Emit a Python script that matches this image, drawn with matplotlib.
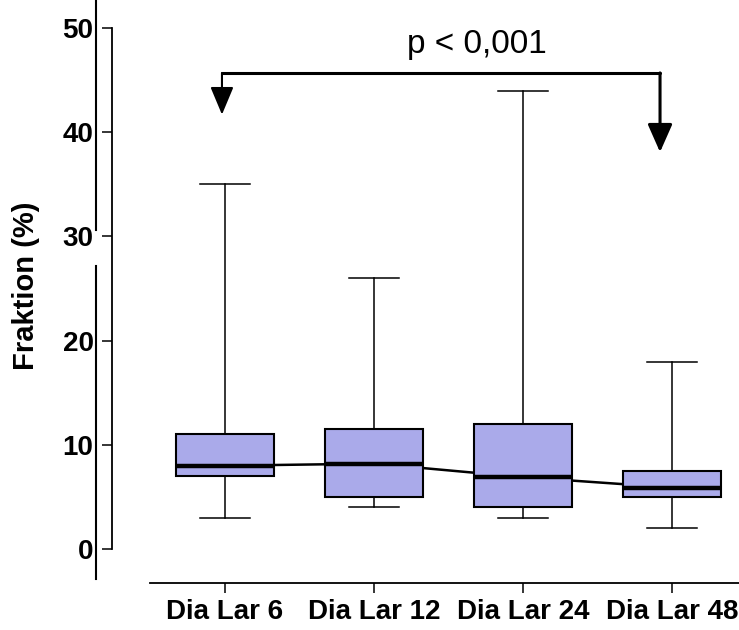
import matplotlib
matplotlib.use("Agg")
import matplotlib.pyplot as plt
from matplotlib.lines import Line2D

plt.rcParams['font.family'] = ['Liberation Sans', 'DejaVu Sans']

groups = ["Dia Lar 6", "Dia Lar 12", "Dia Lar 24", "Dia Lar 48"]
mins = [3, 4, 3, 2]
q1 = [7, 5, 4, 5]
medians = [8.0, 8.2, 6.9, 5.9]
q3 = [11, 11.5, 12, 7.5]
maxs = [35, 26, 44, 18]
p_text = "p < 0,001"

W, H = 739, 630
fig = plt.figure(figsize=(W / 100, H / 100), dpi=100)
# axes: x from px 150 to right edge, y from top to the x-axis line at px 583
ax = fig.add_axes([150 / W, 1 - 583 / H, 1 - 150 / W, 583 / H])

pos = [1, 2, 3, 4]
stats = []
for g, lo, a, m, b, hi in zip(groups, mins, q1, medians, q3, maxs):
    stats.append(dict(label=g, whislo=lo, q1=a, med=m, q3=b, whishi=hi))

# line through the medians, hidden behind the boxes
ax.plot(pos, medians, color="black", lw=1.8, zorder=1)

ax.bxp(stats, positions=pos, widths=0.66, capwidths=0.34, patch_artist=True,
       showfliers=False,
       boxprops=dict(facecolor="#aaaaea", edgecolor="black", linewidth=1.5),
       medianprops=dict(color="black", linewidth=3.2),
       whiskerprops=dict(color="black", linewidth=1.1),
       capprops=dict(color="black", linewidth=1.1),
       zorder=2)

ax.set_xlim(0.497, 4.45)
ax.set_ylim(-3.26, 52.7)

# significance bracket
y_br = 45.7
xl, xr = 0.98, 3.92
ax.plot([xl, xr], [y_br, y_br], color="black", lw=2.2, solid_capstyle="round")
ax.annotate("", xy=(xl, 41.7), xytext=(xl, y_br),
            arrowprops=dict(arrowstyle="-|>,head_length=0.86,head_width=0.36",
                            color="black", lw=1.5, mutation_scale=20,
                            shrinkA=0, shrinkB=0))
ax.annotate("", xy=(xr, 38.1), xytext=(xr, y_br),
            arrowprops=dict(arrowstyle="-|>,head_length=0.86,head_width=0.38",
                            color="black", lw=2.2, mutation_scale=20,
                            shrinkA=0, shrinkB=0))
ax.text(2.69, 47.6, p_text, ha="center", va="baseline", fontsize=24)

# axes styling
for s in ["top", "right"]:
    ax.spines[s].set_visible(False)
ax.spines["left"].set_position(("outward", 27.4))
ax.spines["left"].set_bounds(0, 50)
ax.spines["left"].set_linewidth(1.3)
ax.spines["bottom"].set_linewidth(1.3)

ax.set_yticks([0, 10, 20, 30, 40, 50])
ax.set_xticks(pos)
ax.set_xticklabels(groups)
ax.tick_params(axis="y", length=7.2, width=1.1, pad=6, labelsize=20)
ax.tick_params(axis="x", length=7.2, width=1.1, pad=4, labelsize=20)
for lab in ax.get_xticklabels() + ax.get_yticklabels():
    lab.set_fontweight("bold")

fig.text(26 / W, 1 - 286 / H, "Fraktion (%)", rotation=90, ha="center",
         va="center", fontsize=21, fontweight="bold")

# outer vertical line left of the axis (broken near the 30 label)
fig.add_artist(Line2D([96 / W, 96 / W], [1.0, 1 - 230 / H], color="black", lw=1.5))
fig.add_artist(Line2D([96 / W, 96 / W], [1 - 266 / H, 1 - 579 / H], color="black", lw=1.5))

fig.savefig("out.png", dpi=100)
